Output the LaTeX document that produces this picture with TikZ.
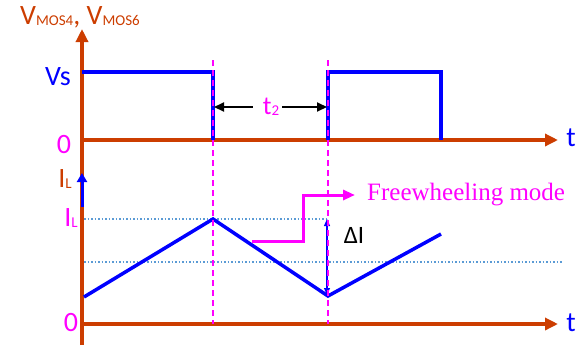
\documentclass[tikz,border=0pt]{standalone}
\usepackage{fontspec}
\setmainfont{Carlito}
\newfontfamily\serifface{Liberation Serif}
\usetikzlibrary{arrows.meta,positioning}
\definecolor{axisred}{RGB}{204,61,0}
\definecolor{levelblue}{RGB}{91,155,213}
\definecolor{vivid}{RGB}{255,0,255}
\definecolor{pureblue}{RGB}{0,0,255}
\newcommand{\lowsub}[1]{\raisebox{-1pt}{\fontsize{15}{15}\selectfont #1}}

\begin{document}
\begin{tikzpicture}[x=1pt,y=-1pt,
  axis/.style={line width=3.5pt,draw=axisred,-{Triangle[length=13pt,width=12pt]}},
  wave/.style={line width=3.5pt,draw=pureblue},
  guide/.style={line width=2pt,draw=vivid,dash pattern=on 6pt off 4pt},
  level/.style={line width=1.5pt,draw=levelblue,dash pattern=on 1.5pt off 2pt},
  lbl/.style={inner sep=0pt,font=\fontsize{28}{30}\selectfont},
  dimarrow/.style={line width=2pt,-{Triangle[length=10pt,width=9pt]}},
  deltaarrow/.style={line width=1.2pt,draw=pureblue,{Triangle[length=7pt,width=6pt]}-{Triangle[length=7pt,width=6pt]}}
]
\useasboundingbox (0,0) rectangle (580,346);
\coordinate (origin) at (82,345);
\coordinate (ytop) at (82,29);
\coordinate (vzero) at (82,140);
\coordinate (vend) at (558,140);
\coordinate (izero) at (82,324);
\coordinate (iend) at (558,324);
\coordinate (fallTop) at (213,60);
\coordinate (fallMid) at (214,107);
\coordinate (fallBot) at (213,324);
\coordinate (riseTop) at (328,60);
\coordinate (riseMid) at (327,107);
\coordinate (riseBot) at (328,324);
\coordinate (peak) at (213,219);
\coordinate (valley) at (328,296);
\coordinate (deltaTop) at (327,219);
\coordinate (deltaBot) at (327,295);
\draw[axis] (origin) -- (ytop);
\draw[axis] (vzero) -- (vend);
\draw[axis] (izero) -- (iend);
\draw[level] (84,219) -- (deltaTop);
\draw[level] (84,262) -- (562,262);
\draw[wave] (82,72) -- (213,72) -- (213,140);
\draw[wave] (328,140) -- (328,72) -- (441,72) -- (441,140);
\draw[wave] (84,297) -- (peak) -- (valley) -- (441,234);
\draw[line width=3pt,draw=pureblue,-{Triangle[length=9pt,width=10pt]}] (82,207) -- (82,173);
\draw[line width=3pt,draw=vivid,-{Triangle[length=12pt,width=10pt]}] (252,241) -- (303,241) -- (303,195) -- (355,195);
\draw[deltaarrow] (deltaTop) -- (deltaBot);
\draw[guide] (fallTop) -- (fallBot);
\draw[guide] (riseTop) -- (riseBot);
\node[lbl,text=axisred] (title) at (80,17) {V\lowsub{MOS4}, V\lowsub{MOS6}};
\node[lbl,text=pureblue] (vs) at (58,77) {Vs};
\node[lbl,text=vivid] (vzerolbl) at (64,145) {0};
\node[lbl,text=vivid] (izerolbl) at (71,323) {0};
\node[lbl,text=pureblue] (tv) at (571,138) {t};
\node[lbl,text=pureblue] (ti) at (571,323) {t};
\node[lbl,text=axisred] (ilaxis) at (65,179) {I\lowsub{L}};
\node[lbl,text=vivid] (ilpeak) at (71,218) {I\lowsub{L}};
\node[lbl,text=vivid,font=\fontsize{26}{28}\selectfont] (t2) at (271,107) {t\lowsub{2}};
\draw[dimarrow] ([xshift=-10pt]t2.west) -- (fallMid);
\draw[dimarrow] ([xshift=3pt]t2.east) -- (riseMid);
\node[lbl,anchor=west,text=vivid,font=\serifface\fontsize{25}{27}\selectfont] (mode) at (367,195) {Freewheeling mode};
\node[lbl,font=\fontsize{25}{27}\selectfont] (delta) at (354,235) {ΔI};
\end{tikzpicture}
\end{document}
